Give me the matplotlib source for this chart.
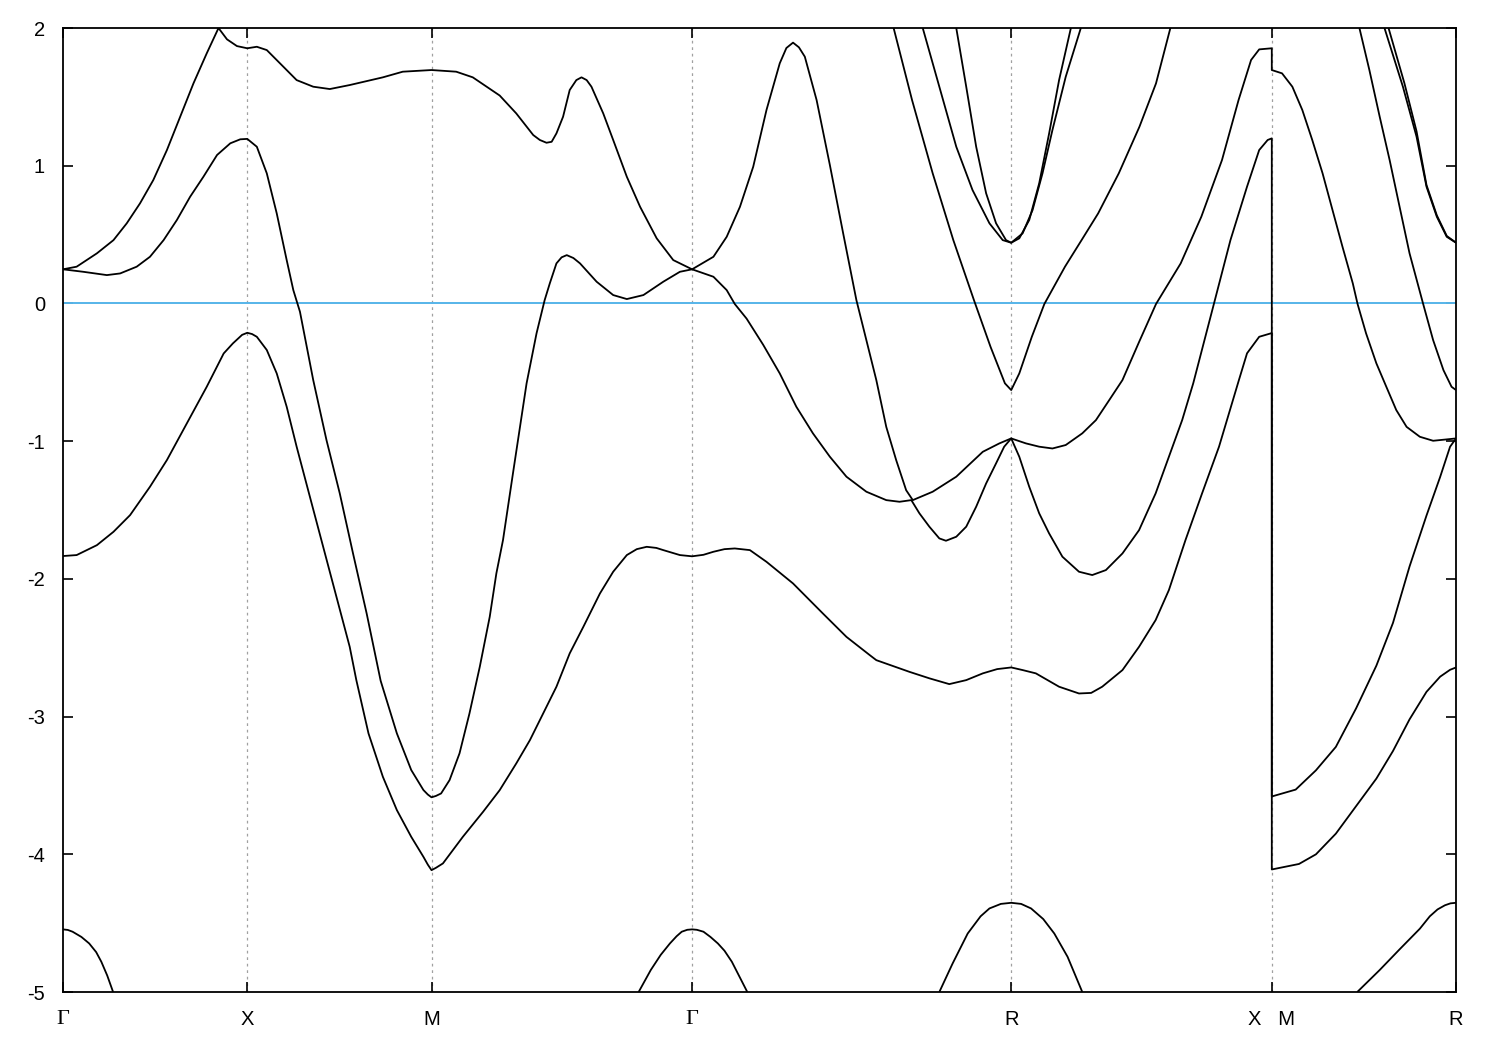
import numpy as np
import matplotlib
matplotlib.use('Agg')
import matplotlib.pyplot as plt

# ---- axis description -------------------------------------------------
K_TICKS = [0.0, 0.5, 1.0, 1.7071, 2.5731, 3.2802, 3.7802]
K_LABELS = ['Γ', 'X', 'M', 'Γ', 'R', 'X   M', 'R']
E_TICKS = [2, 1, 0, -1, -2, -3, -4, -5]
E_MIN, E_MAX = -5.0, 2.0
E_FERMI = 0.0

# ---- band 1 (only visible near Γ, Γ, R, R) -----------------------------
B1A_K = [0.0, 0.013, 0.026, 0.050, 0.071, 0.090, 0.104, 0.120, 0.136]
B1A_E = [-4.545, -4.549, -4.562, -4.60, -4.647, -4.71, -4.78, -4.88, -5.0]
B1B_K = [1.562, 1.595, 1.622, 1.647, 1.665, 1.679, 1.694, 1.7071, 1.720, 1.738, 1.757, 1.777, 1.795, 1.815, 1.857]
B1B_E = [-5.0, -4.84, -4.73, -4.647, -4.595, -4.562, -4.548, -4.545, -4.548, -4.562, -4.60, -4.647, -4.70, -4.78, -5.0]
B1C_K = [2.378, 2.414, 2.455, 2.490, 2.514, 2.545, 2.5731, 2.600, 2.627, 2.660, 2.690, 2.726, 2.766]
B1C_E = [-5.0, -4.793, -4.575, -4.45, -4.393, -4.36, -4.352, -4.36, -4.393, -4.47, -4.575, -4.744, -5.0]
B1D_K = [3.512, 3.573, 3.627, 3.682, 3.709, 3.730, 3.750, 3.765, 3.7802]
B1D_E = [-5.0, -4.84, -4.69, -4.54, -4.45, -4.40, -4.37, -4.356, -4.352]

# ---- band 2 -------------------------------------------------------------
B2_K = [0.0, 0.037, 0.092, 0.137, 0.182, 0.236, 0.282, 0.336, 0.390, 0.436, 0.461, 0.486, 0.5,
        0.513, 0.526, 0.553, 0.580, 0.607, 0.634, 0.670, 0.706, 0.742, 0.778, 0.796, 0.829, 0.868,
        0.906, 0.945, 0.978, 0.990, 1.0,
        1.012, 1.031, 1.085, 1.140, 1.185, 1.230, 1.267, 1.303, 1.339, 1.375, 1.412, 1.457, 1.493,
        1.530, 1.557, 1.584, 1.610, 1.629, 1.674, 1.7071,
        1.738, 1.765, 1.795, 1.823, 1.864, 1.909, 1.981, 2.062, 2.126, 2.189, 2.207, 2.297, 2.351, 2.405,
        2.451, 2.496, 2.535, 2.5731,
        2.604, 2.640, 2.703, 2.757, 2.790, 2.820, 2.875, 2.920, 2.965, 3.001, 3.046, 3.091, 3.137,
        3.191, 3.213, 3.246, 3.2802,
        3.2802, 3.354, 3.400, 3.454, 3.509, 3.564, 3.609, 3.654, 3.700, 3.737, 3.764, 3.7802]
B2_E = [-1.834, -1.827, -1.755, -1.658, -1.537, -1.331, -1.137, -0.871, -0.605, -0.363, -0.29, -0.228, -0.213,
        -0.222, -0.242, -0.338, -0.508, -0.75, -1.04, -1.404, -1.767, -2.13, -2.493, -2.735, -3.122, -3.437,
        -3.679, -3.873, -4.018, -4.075, -4.115,
        -4.098, -4.066, -3.873, -3.691, -3.534, -3.340, -3.171, -2.977, -2.783, -2.541, -2.348, -2.106, -1.948,
        -1.827, -1.784, -1.767, -1.775, -1.791, -1.827, -1.836,
        -1.825, -1.803, -1.784, -1.779, -1.791, -1.876, -2.033, -2.251, -2.421, -2.553, -2.59, -2.675, -2.722, -2.764,
        -2.735, -2.686, -2.655, -2.643,
        -2.662, -2.686, -2.783, -2.832, -2.828, -2.783, -2.662, -2.493, -2.299, -2.081, -1.718, -1.379, -1.04,
        -0.556, -0.362, -0.242, -0.215,
        -4.11, -4.07, -4.0, -3.85, -3.65, -3.45, -3.25, -3.02, -2.82, -2.71, -2.66, -2.643]

# ---- band 3 -------------------------------------------------------------
B3_K = [0.0, 0.055, 0.119, 0.155, 0.200, 0.236, 0.273, 0.309, 0.345, 0.381, 0.418, 0.454, 0.481, 0.5,
        0.526, 0.553, 0.580, 0.607, 0.625, 0.643, 0.679, 0.715, 0.751, 0.787, 0.824, 0.862, 0.906,
        0.945, 0.978, 0.990, 1.0,
        1.012, 1.026, 1.049, 1.076, 1.103, 1.131, 1.158, 1.176, 1.194, 1.221, 1.258, 1.285, 1.307, 1.321,
        1.339, 1.353, 1.367, 1.385, 1.403, 1.448, 1.493, 1.530, 1.575, 1.629, 1.674, 1.7071,
        1.765, 1.801, 1.823, 1.855, 1.900, 1.945, 1.990, 2.035, 2.081, 2.126, 2.180, 2.234, 2.270,
        2.302, 2.324, 2.351, 2.378, 2.396, 2.424, 2.451, 2.478, 2.505, 2.532, 2.554, 2.5731,
        2.595, 2.622, 2.649, 2.676, 2.712, 2.757, 2.793, 2.830, 2.875, 2.920, 2.965, 3.001, 3.037,
        3.067, 3.123, 3.168, 3.213, 3.246, 3.269, 3.2802,
        3.2802, 3.345, 3.400, 3.454, 3.509, 3.564, 3.609, 3.654, 3.700, 3.737, 3.764, 3.7802]
B3_E = [0.248, 0.23, 0.206, 0.218, 0.267, 0.339, 0.46, 0.606, 0.775, 0.92, 1.078, 1.163, 1.192, 1.195,
        1.138, 0.945, 0.654, 0.315, 0.097, -0.06, -0.556, -0.992, -1.379, -1.815, -2.251, -2.74, -3.122,
        -3.388, -3.533, -3.566, -3.586,
        -3.576, -3.558, -3.461, -3.267, -2.977, -2.638, -2.275, -1.96, -1.718, -1.234, -0.58, -0.217, 0.024, 0.146,
        0.291, 0.335, 0.351, 0.33, 0.291, 0.158, 0.061, 0.032, 0.061, 0.158, 0.23, 0.248,
        0.194, 0.097, -0.004, -0.11, -0.30, -0.508, -0.75, -0.943, -1.113, -1.258, -1.367, -1.428, -1.44,
        -1.428, -1.524, -1.621, -1.706, -1.723, -1.694, -1.621, -1.476, -1.307, -1.161, -1.04, -0.98,
        -1.113, -1.331, -1.524, -1.67, -1.839, -1.948, -1.972, -1.936, -1.815, -1.646, -1.379, -1.113, -0.847,
        -0.58, -0.004, 0.46, 0.848, 1.114, 1.187, 1.199,
        -3.58, -3.53, -3.39, -3.22, -2.94, -2.63, -2.32, -1.91, -1.54, -1.26, -1.04, -0.98]

# ---- band 4 -------------------------------------------------------------
B4_K = [0.0, 0.037, 0.092, 0.137, 0.173, 0.209, 0.245, 0.282, 0.318, 0.354, 0.390, 0.422, 0.445, 0.472, 0.5,
        0.526, 0.553, 0.598, 0.634, 0.679, 0.724, 0.778, 0.868, 0.922, 1.0,
        1.067, 1.112, 1.185, 1.230, 1.276, 1.294, 1.312, 1.326, 1.339, 1.357, 1.375, 1.393, 1.407, 1.421,
        1.434, 1.466, 1.493, 1.530, 1.566, 1.611, 1.656, 1.7071,
        1.765, 1.801, 1.837, 1.873, 1.909, 1.945, 1.963, 1.981, 1.997, 2.013, 2.045, 2.081, 2.117, 2.153,
        2.180, 2.207, 2.234, 2.261, 2.288, 2.306, 2.360, 2.424, 2.496, 2.541, 2.5731,
        2.613, 2.649, 2.685, 2.721, 2.766, 2.803, 2.839, 2.875, 2.920, 2.966, 3.033, 3.089, 3.145,
        3.190, 3.224, 3.246, 3.2802,
        3.2802, 3.308, 3.336, 3.363, 3.390, 3.418, 3.445, 3.472, 3.500, 3.513, 3.536, 3.564, 3.591,
        3.618, 3.646, 3.682, 3.718, 3.755, 3.7802]
B4_E = [0.248, 0.267, 0.364, 0.46, 0.582, 0.727, 0.896, 1.114, 1.356, 1.598, 1.816, 2.0, 1.918, 1.869, 1.853,
        1.864, 1.84, 1.719, 1.622, 1.574, 1.557, 1.586, 1.642, 1.683, 1.695,
        1.683, 1.642, 1.51, 1.38, 1.223, 1.187, 1.167, 1.174, 1.235, 1.356, 1.55, 1.622, 1.642, 1.622,
        1.574, 1.38, 1.187, 0.92, 0.702, 0.473, 0.315, 0.248,
        0.339, 0.484, 0.702, 0.993, 1.405, 1.744, 1.855, 1.894, 1.86, 1.792, 1.477, 1.005, 0.51, 0.024,
        -0.266, -0.556, -0.896, -1.138, -1.356, -1.428, -1.367, -1.258, -1.077, -1.016, -0.98,
        -1.016, -1.04, -1.053, -1.028, -0.943, -0.847, -0.702, -0.556, -0.28, -0.004, 0.291, 0.63, 1.041,
        1.477, 1.768, 1.845, 1.853,
        1.695, 1.671, 1.574, 1.405, 1.187, 0.945, 0.678, 0.412, 0.146, -0.004, -0.217, -0.435, -0.605,
        -0.774, -0.896, -0.968, -0.997, -0.987, -0.98]

# ---- band 5 (cusp at R, -0.63) -----------------------------------------
B5A_K = [2.254, 2.304, 2.360, 2.416, 2.472, 2.517, 2.556, 2.5731,
         2.595, 2.629, 2.663, 2.719, 2.764, 2.809, 2.865, 2.921, 2.966, 3.005]
B5A_E = [2.0, 1.477, 0.945, 0.46, 0.024, -0.315, -0.58, -0.629,
         -0.508, -0.242, -0.004, 0.267, 0.46, 0.654, 0.945, 1.283, 1.598, 2.0]
B5B_K = [3.518, 3.545, 3.573, 3.600, 3.627, 3.654, 3.691, 3.718, 3.746, 3.768, 3.7802]
B5B_E = [2.0, 1.695, 1.356, 1.041, 0.702, 0.364, -0.004, -0.266, -0.484, -0.605, -0.629]

# ---- bands 6 and 7 (meeting at R, 0.44) --------------------------------
B6A_K = [2.333, 2.378, 2.424, 2.468, 2.514, 2.550, 2.5731, 2.604, 2.631, 2.658, 2.685, 2.721, 2.762]
B6A_E = [2.0, 1.574, 1.138, 0.824, 0.582, 0.46, 0.441, 0.509, 0.678, 0.945, 1.26, 1.646, 2.0]
B6B_K = [3.586, 3.636, 3.673, 3.700, 3.728, 3.755, 3.7802]
B6B_E = [2.0, 1.574, 1.211, 0.848, 0.63, 0.484, 0.441]
B7A_K = [2.424, 2.451, 2.478, 2.505, 2.532, 2.559, 2.5731, 2.595, 2.622, 2.649, 2.676, 2.703, 2.735]
B7A_E = [2.0, 1.574, 1.138, 0.8, 0.582, 0.46, 0.441, 0.473, 0.606, 0.872, 1.235, 1.622, 2.0]
B7B_K = [3.597, 3.640, 3.673, 3.700, 3.728, 3.755, 3.7802]
B7B_E = [2.0, 1.60, 1.25, 0.86, 0.64, 0.49, 0.441]

BAND_PIECES = [
    (B1A_K, B1A_E), (B1B_K, B1B_E), (B1C_K, B1C_E), (B1D_K, B1D_E),
    (B2_K, B2_E), (B3_K, B3_E), (B4_K, B4_E),
    (B5A_K, B5A_E), (B5B_K, B5B_E),
    (B6A_K, B6A_E), (B6B_K, B6B_E), (B7A_K, B7A_E), (B7B_K, B7B_E),
]

# ---- figure --------------------------------------------------------------
plt.rcParams['font.family'] = ['Liberation Sans', 'DejaVu Sans']
fig = plt.figure(figsize=(15, 10.5), dpi=100)
ax = fig.add_axes([0.042, 0.0552, 0.9287, 0.9181])

for k in K_TICKS[1:-1]:
    ax.axvline(k, color='#a0a0a0', lw=0.9, ls=(0, (2.2, 3.0)), zorder=1)

ax.axhline(E_FERMI, color='#56b4e9', lw=1.4, zorder=2)

for ks, es in BAND_PIECES:
    ax.plot(ks, es, color='black', lw=1.3, zorder=3,
            solid_joinstyle='round', solid_capstyle='butt')

ax.set_xlim(K_TICKS[0], K_TICKS[-1])
ax.set_ylim(E_MIN, E_MAX)
ax.set_xticks(K_TICKS)
ax.set_xticklabels(K_LABELS)
ax.set_yticks(E_TICKS)
ax.set_yticklabels([str(t) for t in E_TICKS])

ax.tick_params(axis='both', direction='in', length=7.5, width=1.2,
               labelsize=14.5, colors='black')
ax.tick_params(axis='x', top=True, bottom=True, pad=13)
ax.tick_params(axis='y', left=True, right=True, pad=13)
for lab in ax.get_xticklabels():
    if lab.get_text() == 'Γ':
        lab.set_fontfamily(['Liberation Serif', 'DejaVu Serif'])
        lab.set_fontsize(16)

for sp in ax.spines.values():
    sp.set_linewidth(1.3)
    sp.set_color('black')

fig.savefig('out.png', dpi=100, facecolor='white')
